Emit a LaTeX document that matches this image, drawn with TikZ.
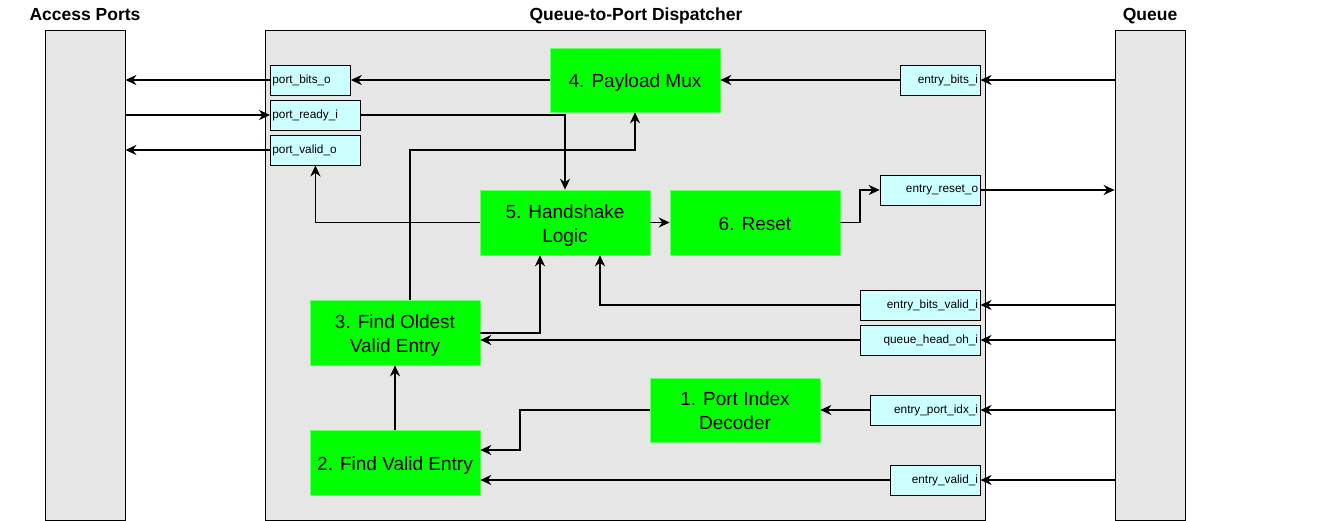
\documentclass[tikz,border=0pt]{standalone}
\usepackage{fontspec}
\setmainfont{Liberation Sans}
\usetikzlibrary{arrows.meta}
\definecolor{boxgray}{HTML}{E6E6E6}
\definecolor{portcyan}{HTML}{CCFFFF}
\definecolor{blockgreen}{HTML}{00FF00}
\definecolor{blockedge}{HTML}{66FF66}
\newcommand{\bstrut}{\rule[-4.3pt]{0pt}{23.8pt}}
\begin{document}
\begin{tikzpicture}[x=1pt,y=-1pt,
  container/.style={draw=black,fill=boxgray,line width=0.8pt,inner sep=0pt,minimum width=#1,minimum height=490pt},
  title/.style={anchor=base,font=\fontsize{17.5}{20}\selectfont\bfseries},
  port/.style={draw=black,fill=portcyan,line width=0.8pt,inner ysep=0pt,inner xsep=2pt,minimum height=30pt,font=\fontsize{11.8}{13}\selectfont},
  portL/.style={port,anchor=west,align=left,text width=#1},
  portR/.style={port,anchor=east,align=right,text width=#1},
  block/.style={fill=blockgreen,draw=blockedge,line width=0.6pt,minimum width=170pt,minimum height=65pt,inner sep=0pt,align=center,font=\fontsize{19}{24}\selectfont},
  arr/.style={line width=1.8pt,-{Stealth[length=11pt,width=10pt,inset=3.5pt]}},
  ]
\useasboundingbox (0,0) rectangle (1328,521);
% containers
\node[container=80pt] (access) at (85,275) {};
\node[container=720pt] (disp) at (625,275) {};
\node[container=70pt] (queue) at (1150,275) {};
\node[title] (tacc) at (85,21) {Access Ports};
\node[title] (tdisp) at (636,21) {Queue-to-Port Dispatcher};
\node[title] (tq) at (1150,21) {Queue};
% ports left
\node[portL=76pt] (pbo) at (270,80) {port\_bits\_o};
\node[portL=86pt] (pri) at (270,115) {port\_ready\_i};
\node[portL=86pt] (pvo) at (270,150) {port\_valid\_o};
% ports right
\node[portR=76pt] (ebi) at (980.5,80) {entry\_bits\_i};
\node[portR=96pt] (ero) at (980.5,190) {entry\_reset\_o};
\node[portR=116pt] (ebv) at (980.5,305) {entry\_bits\_valid\_i};
\node[portR=116pt] (qho) at (980.5,340) {queue\_head\_oh\_i};
\node[portR=106pt] (epi) at (980.5,410) {entry\_port\_idx\_i};
\node[portR=86pt] (evi) at (980.5,480) {entry\_valid\_i};
% blocks
\node[block,minimum height=64pt] (mux) at (635,80) {\bstrut 4. Payload Mux};
\node[block] (hs) at (565,222.5) {\bstrut 5. Handshake\\\bstrut Logic};
\node[block] (rst) at (755,222.5) {\bstrut 6. Reset};
\node[block] (fo) at (395,332.5) {\bstrut 3. Find Oldest\\\bstrut Valid Entry};
\node[block] (fv) at (395,462.5) {\bstrut 2. Find Valid Entry};
\node[block,minimum height=64pt] (dec) at (735,410) {\bstrut 1. Port Index\\\bstrut Decoder};
% helper coordinates
\coordinate (t1) at (410,150);
\coordinate (t2) at (540,333);
\coordinate (t3) at (600,305);
\coordinate (t4) at (860,222.5);
\coordinate (t5) at (520,450);
% connectors
\draw[arr] (pbo.west) -- (pbo.west -| access.east);
\draw[arr] (access.east |- pri.west) -- (pri.west);
\draw[arr] (pvo.west) -- (pvo.west -| access.east);
\draw[arr] (mux.west) -- (pbo.east);
\draw[arr] (ebi.west) -- (mux.east);
\draw[arr] (queue.west |- ebi.east) -- (ebi.east);
\draw[arr] (pri.east) -| (hs.north);
\draw[arr] (hs.west) -| (pvo.south);
\draw[arr] (fo.north -| t1) -- (t1) -| (mux.south);
\draw[arr] (fo.east |- t2) -| (hs.south -| t2);
\draw[arr] (ebv.west) -| (hs.south -| t3);
\draw[arr] (qho.west) -- (qho.west -| fo.east);
\draw[arr] (hs.east) -- (rst.west);
\draw[arr] (rst.east) -- (t4) |- (ero.west);
\draw[arr] (ero.east) -- (ero.east -| queue.west);
\draw[arr] (queue.west |- ebv.east) -- (ebv.east);
\draw[arr] (queue.west |- qho.east) -- (qho.east);
\draw[arr] (queue.west |- epi.east) -- (epi.east);
\draw[arr] (queue.west |- evi.east) -- (evi.east);
\draw[arr] (epi.west) -- (dec.east);
\draw[arr] (dec.west) -| (t5) -- (t5 -| fv.east);
\draw[arr] (evi.west) -- (evi.west -| fv.east);
\draw[arr] (fv.north) -- (fo.south);
\end{tikzpicture}
\end{document}
